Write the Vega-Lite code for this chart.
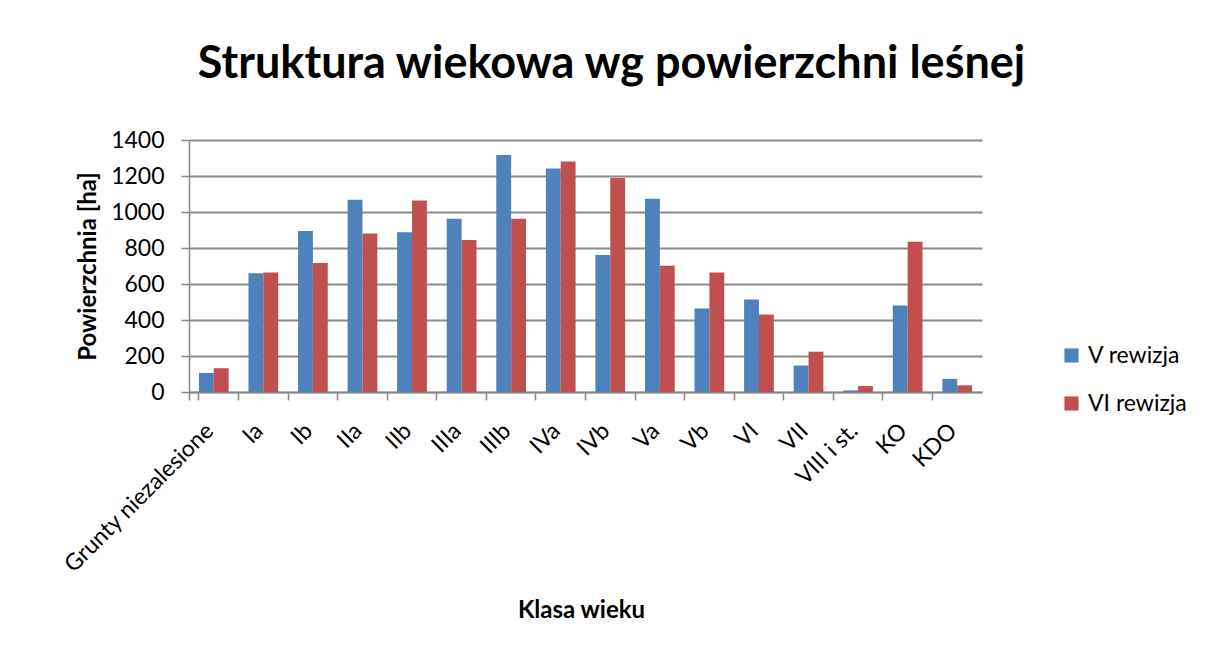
{
  "$schema": "https://vega.github.io/schema/vega-lite/v6.json",
  "autosize": {"type": "none"},
  "width": 793,
  "height": 252,
  "padding": {"left": 189, "top": 140, "right": 225, "bottom": 265},
  "background": "white",
  "title": {
    "text": "Struktura wiekowa wg powierzchni leśnej",
    "font": "Lato",
    "fontSize": 45,
    "fontWeight": "bold",
    "color": "#000000",
    "anchor": "middle",
    "dx": 26,
    "offset": 42
  },
  "data": {
    "values": [
      {"klasa": "Grunty niezalesione", "rewizja": "V rewizja", "ha": 106},
      {"klasa": "Grunty niezalesione", "rewizja": "VI rewizja", "ha": 132},
      {"klasa": "Ia", "rewizja": "V rewizja", "ha": 660},
      {"klasa": "Ia", "rewizja": "VI rewizja", "ha": 664},
      {"klasa": "Ib", "rewizja": "V rewizja", "ha": 895},
      {"klasa": "Ib", "rewizja": "VI rewizja", "ha": 716},
      {"klasa": "IIa", "rewizja": "V rewizja", "ha": 1068},
      {"klasa": "IIa", "rewizja": "VI rewizja", "ha": 881},
      {"klasa": "IIb", "rewizja": "V rewizja", "ha": 888},
      {"klasa": "IIb", "rewizja": "VI rewizja", "ha": 1064},
      {"klasa": "IIIa", "rewizja": "V rewizja", "ha": 963},
      {"klasa": "IIIa", "rewizja": "VI rewizja", "ha": 844},
      {"klasa": "IIIb", "rewizja": "V rewizja", "ha": 1317},
      {"klasa": "IIIb", "rewizja": "VI rewizja", "ha": 963},
      {"klasa": "IVa", "rewizja": "V rewizja", "ha": 1242},
      {"klasa": "IVa", "rewizja": "VI rewizja", "ha": 1281},
      {"klasa": "IVb", "rewizja": "V rewizja", "ha": 761},
      {"klasa": "IVb", "rewizja": "VI rewizja", "ha": 1189},
      {"klasa": "Va", "rewizja": "V rewizja", "ha": 1073},
      {"klasa": "Va", "rewizja": "VI rewizja", "ha": 701},
      {"klasa": "Vb", "rewizja": "V rewizja", "ha": 464},
      {"klasa": "Vb", "rewizja": "VI rewizja", "ha": 664},
      {"klasa": "VI", "rewizja": "V rewizja", "ha": 514},
      {"klasa": "VI", "rewizja": "VI rewizja", "ha": 431},
      {"klasa": "VII", "rewizja": "V rewizja", "ha": 147},
      {"klasa": "VII", "rewizja": "VI rewizja", "ha": 224},
      {"klasa": "VIII i st.", "rewizja": "V rewizja", "ha": 9},
      {"klasa": "VIII i st.", "rewizja": "VI rewizja", "ha": 33},
      {"klasa": "KO", "rewizja": "V rewizja", "ha": 481},
      {"klasa": "KO", "rewizja": "VI rewizja", "ha": 835},
      {"klasa": "KDO", "rewizja": "V rewizja", "ha": 73},
      {"klasa": "KDO", "rewizja": "VI rewizja", "ha": 37}
    ]
  },
  "mark": {"type": "bar", "stroke": null},
  "encoding": {
    "x": {
      "field": "klasa",
      "type": "nominal",
      "sort": null,
      "scale": {"paddingInner": 0.4, "paddingOuter": 0.2},
      "axis": {
        "title": "Klasa wieku",
        "titleFont": "Lato",
        "titleFontSize": 24,
        "titleFontWeight": "bold",
        "titleColor": "#000000",
        "titleY": 218,
        "titleX": 392,
        "titleBaseline": "middle",
        "labelAngle": -45,
        "labelAlign": "right",
        "labelBaseline": "middle",
        "labelFont": "Lato",
        "labelFontSize": 23,
        "labelColor": "#000000",
        "labelPadding": 27,
        "labelLimit": 0,
        "bandPosition": -0.3333,
        "tickExtra": true,
        "labelOffset": -4,
        "tickColor": "#888888",
        "tickSize": 8,
        "tickWidth": 1.5,
        "domainColor": "#888888",
        "domainWidth": 1.5,
        "grid": false
      }
    },
    "xOffset": {"field": "rewizja", "type": "nominal", "scale": {"paddingInner": 0}},
    "y": {
      "field": "ha",
      "type": "quantitative",
      "scale": {"domain": [0, 1400]},
      "axis": {
        "title": "Powierzchnia [ha]",
        "titleFont": "Lato",
        "titleFontSize": 24,
        "titleFontWeight": "bold",
        "titleColor": "#000000",
        "titleAngle": -90,
        "titleX": -101,
        "titleY": 126,
        "titleAlign": "center",
        "titleBaseline": "middle",
        "values": [0, 200, 400, 600, 800, 1000, 1200, 1400],
        "format": "d",
        "labelFont": "Lato",
        "labelFontSize": 23,
        "labelColor": "#000000",
        "labelPadding": 17,
        "tickColor": "#888888",
        "tickSize": 8,
        "tickWidth": 1.5,
        "domainColor": "#888888",
        "domainWidth": 1.5,
        "gridColor": "#8c8c8c",
        "gridWidth": 1.8
      }
    },
    "color": {
      "field": "rewizja",
      "type": "nominal",
      "scale": {"domain": ["V rewizja", "VI rewizja"], "range": ["#4F81BD", "#C0504D"]},
      "legend": {
        "title": null,
        "orient": "none",
        "legendX": 871,
        "legendY": 204,
        "symbolType": "square",
        "symbolSize": 200,
        "symbolStrokeWidth": 0,
        "labelFont": "Lato",
        "labelFontSize": 23,
        "labelColor": "#000000",
        "labelOffset": 5,
        "rowPadding": 24,
        "padding": 0
      }
    }
  },
  "config": {
    "view": {"stroke": null}
  }
}
